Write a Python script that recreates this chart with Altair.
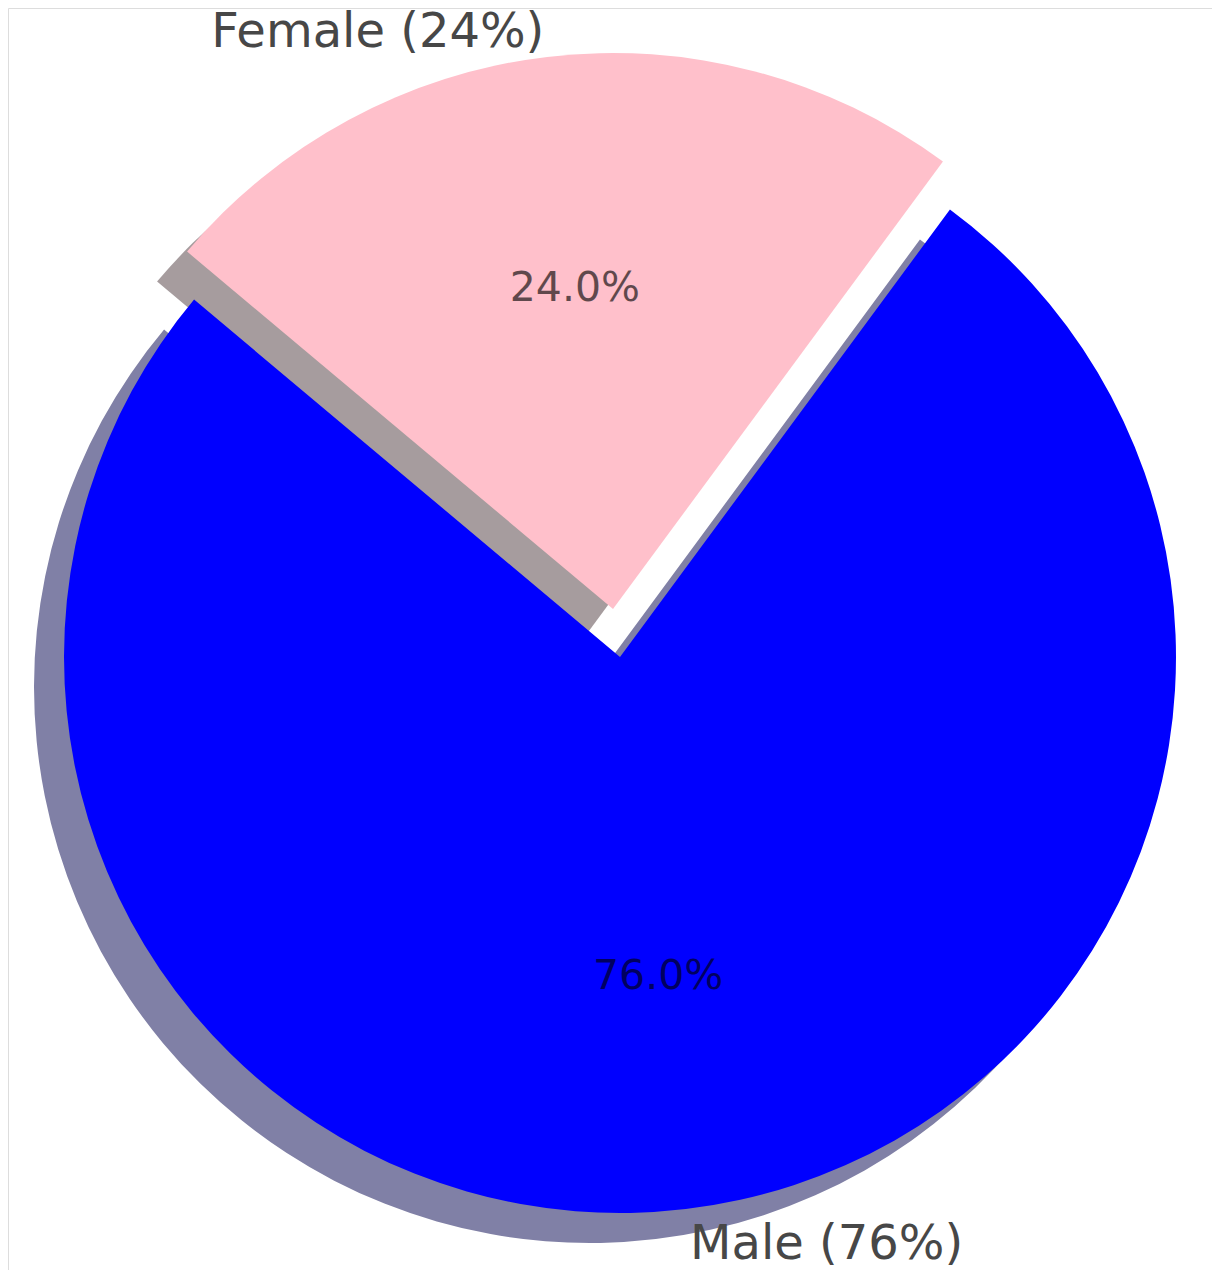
import altair as alt
import pandas as pd

# data
categories = ["Male", "Female"]
values = [76, 24]
colors = ["#0000ff", "#ffc0cb"]
shadow_colors = ["#8080a6", "#a69c9e"]
labels = ["Male (76%)", "Female (24%)"]
pct_labels = ["76.0%", "24.0%"]

df = pd.DataFrame({
    "order": list(range(len(categories))),
    "category": categories,
    "value": values,
    "label": labels,
    "pct": pct_labels,
})

W, H = 1204, 1262
R = 556
START = 0.6353  # matplotlib startangle=140 expressed in Vega's clockwise-from-north angle
TAU = 6.283185307179586

# geometry of the exploded pie (layout only)
centers = {
    "Male": (612, 649),
    "Female": (605, 601),
}
label_radius = {"Male": 592, "Female": 580}
shadow_off = (-30, 30)

base = (
    alt.Chart(df)
    .transform_window(end="sum(value)", sort=[alt.SortField("order")], frame=[None, 0])
    .transform_calculate(start="datum.end - datum.value", mid="datum.end - datum.value / 2")
)

theta_scale = alt.Scale(domain=[0, sum(values)], range=[START, START + TAU])

layers = []
# shadows first
for cat, sc in zip(categories, shadow_colors):
    cx, cy = centers[cat]
    layers.append(
        base.transform_filter(alt.datum.category == cat)
        .mark_arc(outerRadius=R, color=sc, strokeWidth=0)
        .encode(
            theta=alt.Theta("start:Q", scale=theta_scale),
            theta2="end:Q",
            x=alt.value(cx + shadow_off[0]),
            y=alt.value(cy + shadow_off[1]),
        )
    )
# wedges
for cat, c in zip(categories, colors):
    cx, cy = centers[cat]
    layers.append(
        base.transform_filter(alt.datum.category == cat)
        .mark_arc(outerRadius=R, color=c, strokeWidth=0)
        .encode(
            theta=alt.Theta("start:Q", scale=theta_scale),
            theta2="end:Q",
            x=alt.value(cx),
            y=alt.value(cy),
        )
    )
# texts
aligns = {"Male": "left", "Female": "right"}
for cat in categories:
    cx, cy = centers[cat]
    layers.append(
        base.transform_filter(alt.datum.category == cat)
        .mark_text(radius=322, font="DejaVu Sans", fontSize=41, color="#000000",
                   opacity=0.62, align="center", baseline="middle")
        .encode(
            theta=alt.Theta("mid:Q", scale=theta_scale),
            text="pct:N",
            x=alt.value(cx),
            y=alt.value(cy),
        )
    )
    layers.append(
        base.transform_filter(alt.datum.category == cat)
        .mark_text(radius=label_radius[cat], font="DejaVu Sans", fontSize=48, color="#474747",
                   align=aligns[cat], baseline="middle")
        .encode(
            theta=alt.Theta("mid:Q", scale=theta_scale),
            text="label:N",
            x=alt.value(cx),
            y=alt.value(cy),
        )
    )

chart = (
    alt.layer(*layers)
    .properties(width=W, height=H, padding=0, autosize=alt.AutoSizeParams(type="none"))
    .configure_view(strokeWidth=0, strokeOpacity=0, stroke="transparent")
    .configure(background="white")
)

chart.save("out.html", embed_options={"renderer": "svg", "actions": False})
